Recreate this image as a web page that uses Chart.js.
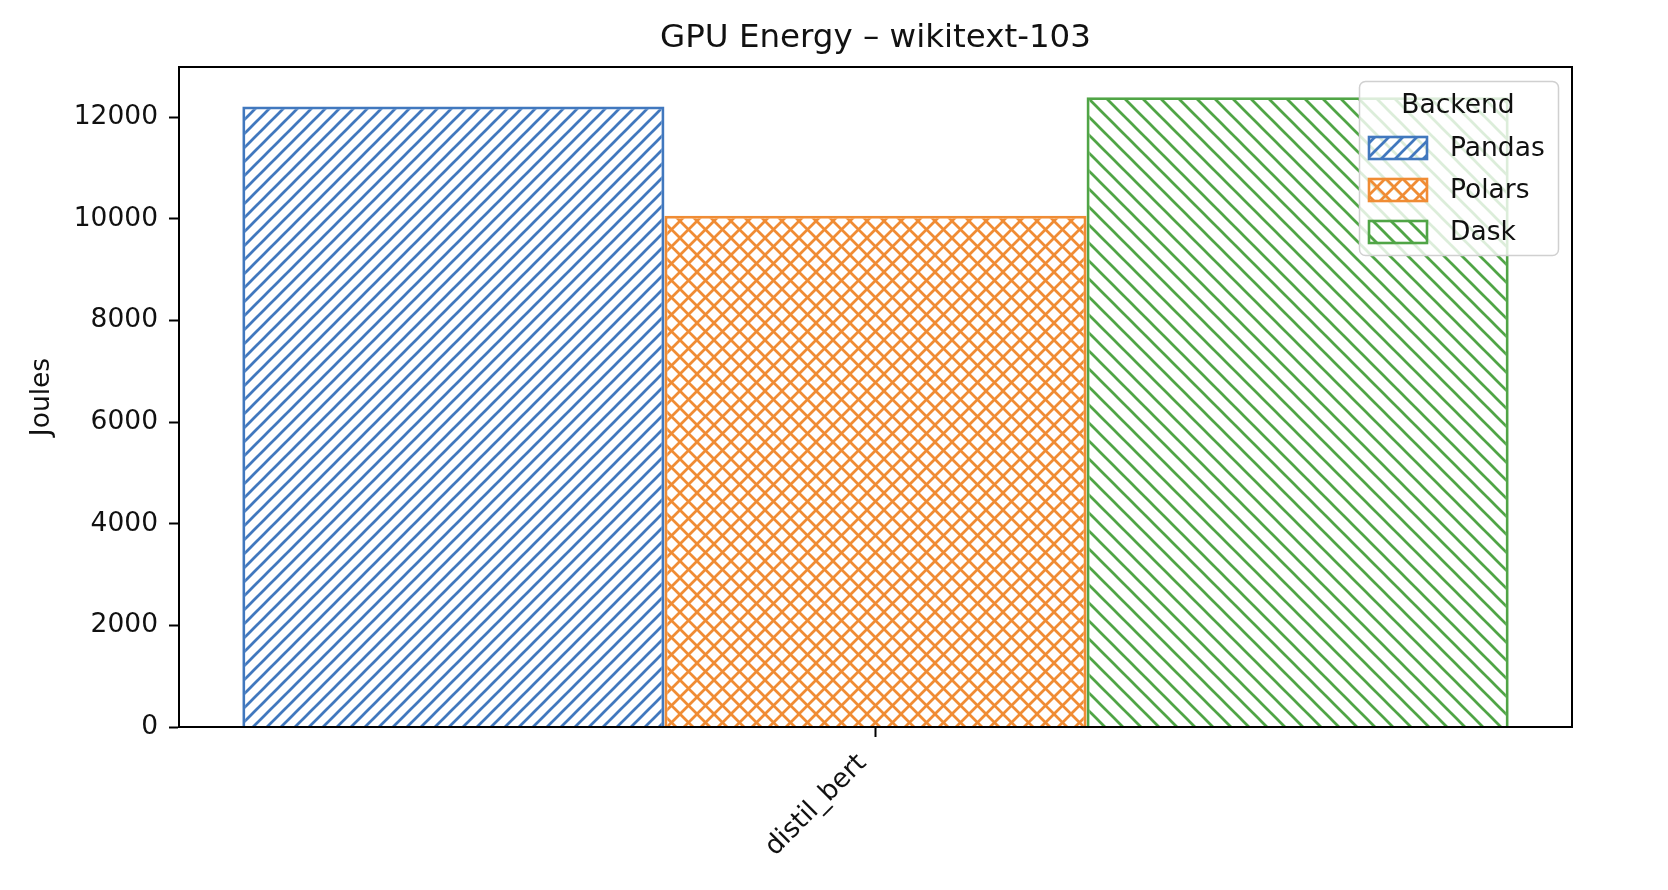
<!DOCTYPE html>
<html>
<head>
<meta charset="utf-8">
<script src="https://cdn.jsdelivr.net/npm/chart.js@4.4.1/dist/chart.umd.min.js"></script>
<style>
  html, body { margin: 0; padding: 0; background: #fff; }
</style>
</head>
<body>
<canvas id="energyChart" width="1668" height="890"></canvas>
<script>
  // values
  const chartTitle = 'GPU Energy – wikitext-103';
  const categories = ['distil_bert'];
  const backends = ['Pandas', 'Polars', 'Dask'];
  const pandasJoules = [12210];
  const polarsJoules = [10060];
  const daskJoules = [12390];
  const yTicks = [0, 2000, 4000, 6000, 8000, 10000, 12000];
  const yMax = 12985;

  const FONT = "'DejaVu Sans', sans-serif";
  const colors = ['#4178be', '#f08c34', '#50a546'];

  // matplotlib-like hatch tiles
  function makeHatch(color, size, dirs) {
    const c = document.createElement('canvas');
    c.width = size;
    c.height = size;
    const g = c.getContext('2d');
    g.strokeStyle = color;
    g.lineWidth = 2.7;
    dirs.forEach(dir => {
      for (let k = -1; k <= 1; k++) {
        g.beginPath();
        if (dir === '/') {
          g.moveTo(k * size - size, 2 * size);
          g.lineTo(k * size + 2 * size, -size);
        } else {
          g.moveTo(k * size - size, -size);
          g.lineTo(k * size + 2 * size, 2 * size);
        }
        g.stroke();
      }
    });
    return g.createPattern(c, 'repeat');
  }

  const ctx = document.getElementById('energyChart').getContext('2d');
  const patterns = [
    makeHatch(colors[0], 14, ['/']),
    makeHatch(colors[1], 17, ['/', '\\']),
    makeHatch(colors[2], 18, ['\\'])
  ];
  const series = [pandasJoules, polarsJoules, daskJoules];

  const framePlugin = {
    id: 'frame',
    afterDatasetsDraw(chart) {
      const a = chart.chartArea;
      const c = chart.ctx;
      c.save();
      c.strokeStyle = '#000';
      c.lineWidth = 2;
      c.strokeRect(a.left, a.top, a.right - a.left, a.bottom - a.top);
      // title centred over the axes, like matplotlib
      c.fillStyle = '#111';
      c.font = '32.5px ' + FONT;
      c.textAlign = 'center';
      c.textBaseline = 'middle';
      c.fillText(chartTitle, (a.left + a.right) / 2, 39);
      c.restore();
    }
  };

  const legendPlugin = {
    id: 'boxLegend',
    afterDraw(chart) {
      const c = chart.ctx;
      c.save();
      c.beginPath();
      c.roundRect(1359.5, 81.5, 199, 174, 6);
      c.fillStyle = 'rgba(255,255,255,0.8)';
      c.fill();
      c.strokeStyle = '#d0d0d0';
      c.lineWidth = 1.5;
      c.stroke();

      c.fillStyle = '#111';
      c.font = '26.5px ' + FONT;
      c.textAlign = 'center';
      c.textBaseline = 'middle';
      c.fillText('Backend', 1458, 106);

      chart.data.datasets.forEach((ds, i) => {
        const y = 137 + i * 42;
        c.fillStyle = ds.backgroundColor;
        c.fillRect(1369, y, 58, 22);
        c.strokeStyle = ds.borderColor;
        c.lineWidth = 2.6;
        c.strokeRect(1369, y, 58, 22);
        c.fillStyle = '#111';
        c.textAlign = 'left';
        c.fillText(ds.label, 1450, y + 12);
      });
      c.restore();
    }
  };

  new Chart(ctx, {
    type: 'bar',
    data: {
      labels: categories,
      datasets: backends.map((name, i) => ({
        label: name,
        data: series[i],
        backgroundColor: patterns[i],
        borderColor: colors[i],
        borderWidth: 2.8,
        categoryPercentage: 0.8 / 0.88,
        barPercentage: 1.0
      }))
    },
    options: {
      responsive: false,
      animation: false,
      layout: { padding: { left: 0, right: 96, top: 67, bottom: 0 } },
      plugins: {
        legend: { display: false },
        tooltip: { enabled: false },
        title: { display: false }
      },
      scales: {
        x: {
          type: 'category',
          offset: true,
          afterFit(scale) { scale.height = 163; },
          grid: {
            display: true,
            offset: false,
            drawOnChartArea: false,
            drawTicks: true,
            tickLength: 10,
            tickWidth: 2,
            tickColor: '#000'
          },
          border: { display: true, color: '#000', width: 2 },
          ticks: {
            color: '#111',
            font: { family: FONT, size: 26.5 },
            minRotation: 45,
            maxRotation: 45,
            padding: 11,
            labelOffset: -13
          }
        },
        y: {
          min: 0,
          max: yMax,
          afterFit(scale) { scale.width = 179; },
          afterBuildTicks(scale) {
            scale.ticks = yTicks.map(v => ({ value: v }));
          },
          grid: {
            display: true,
            drawOnChartArea: false,
            drawTicks: true,
            tickLength: 10,
            tickWidth: 2,
            tickColor: '#000'
          },
          border: { display: true, color: '#000', width: 2 },
          ticks: {
            color: '#111',
            font: { family: FONT, size: 26.5 },
            padding: 11,
            callback: v => String(v)
          },
          title: {
            display: true,
            text: 'Joules',
            color: '#111',
            font: { family: FONT, size: 26.5 },
            padding: { top: 26, bottom: 0 }
          }
        }
      }
    },
    plugins: [framePlugin, legendPlugin]
  });
</script>
</body>
</html>
